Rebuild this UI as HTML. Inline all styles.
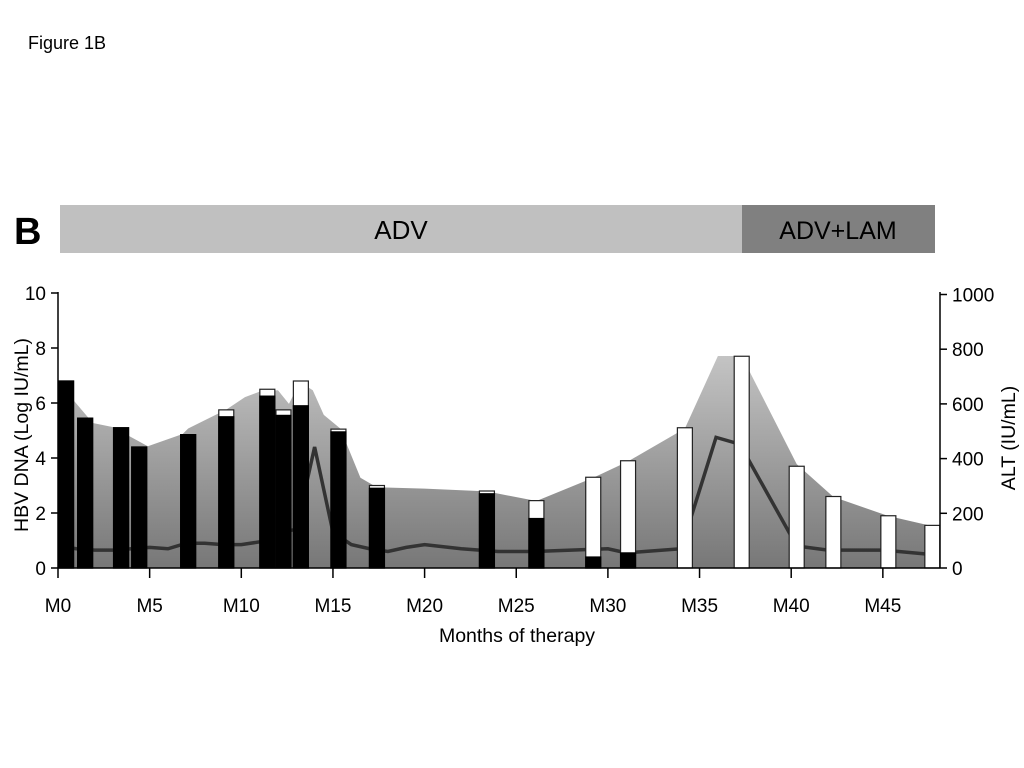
<!DOCTYPE html>
<html><head><meta charset="utf-8"><style>
body{margin:0;background:#fff;}
svg{display:block;font-family:"Liberation Sans",Arial,sans-serif;}
</style></head><body>
<svg id="chart" width="1024" height="768">
<defs><linearGradient id="g" x1="0" y1="355" x2="0" y2="568" gradientUnits="userSpaceOnUse">
<stop offset="0" stop-color="#c4c4c4"/><stop offset="1" stop-color="#777"/></linearGradient></defs>
<text x="28" y="49" font-size="18">Figure 1B</text>
<text x="14" y="244" font-size="38" font-weight="bold">B</text>
<rect x="60" y="205" width="682" height="48" fill="#c0c0c0"/>
<rect x="742" y="205" width="193" height="48" fill="#808080"/>
<text x="401" y="239" font-size="26" text-anchor="middle">ADV</text>
<text x="838" y="239" font-size="25" text-anchor="middle">ADV+LAM</text>
<g id="plot"></g>
<text x="517" y="642" font-size="19.5" text-anchor="middle">Months of therapy</text>
<text transform="translate(28,435) rotate(-90)" font-size="19.5" text-anchor="middle">HBV DNA (Log IU/mL)</text>
<text transform="translate(1015,438) rotate(-90)" font-size="19.5" text-anchor="middle">ALT (IU/mL)</text>
</svg>
<script>
const barMonths=[0.44,1.48,3.44,4.43,7.1,9.18,11.42,12.3,13.25,15.3,17.4,23.4,26.1,29.2,31.1,34.2,37.3,40.3,42.3,45.3,47.7];
const barTotal=[6.8,5.45,5.1,4.4,4.85,5.75,6.5,5.75,6.8,5.05,3.0,2.8,2.45,3.3,3.9,5.1,7.7,3.7,2.6,1.9,1.55];
const barBlack=[6.8,5.45,5.1,4.4,4.85,5.5,6.25,5.55,5.9,4.95,2.9,2.7,1.8,0.4,0.55,0,0,0,0,0,0];
const altMonths=[0,1.9,3.0,4.9,6.8,7.1,9.2,10.2,11.0,12.0,12.6,13.2,13.9,14.5,15.4,16.5,17.4,20,23.4,26.1,29.2,31.1,34.2,36.0,37.3,40.3,42.3,45.3,47.9];
const altVals=[680,530,515,445,490,510,580,625,645,650,600,680,650,560,510,330,295,290,280,245,330,390,510,775,775,380,260,190,150];
const lineMonths=[0,1,2,3,4,5,6,7,8,9,10,11,12,13,14,15,16,17,18,19,20,22,24,26,28,30,31,32,34,35.9,37.2,40.3,42,45,47.5];
const lineVals=[0.8,0.7,0.65,0.65,0.7,0.75,0.7,0.9,0.9,0.85,0.85,0.95,1.3,1.4,4.4,1.3,0.85,0.7,0.6,0.75,0.85,0.7,0.6,0.6,0.65,0.7,0.55,0.6,0.7,4.75,4.5,0.8,0.65,0.65,0.5];
const leftTicks=[0,2,4,6,8,10];
const rightTicks=[0,200,400,600,800,1000];
const xTicks=[0,5,10,15,20,25,30,35,40,45];
const X=m=>58+m*18.33;
const Y=v=>568-v*27.5;
const YR=v=>568-v*0.2735;
const NS='http://www.w3.org/2000/svg';
const g=document.getElementById('plot');
function mk(t,a){const e=document.createElementNS(NS,t);for(const k in a)e.setAttribute(k,a[k]);g.appendChild(e);return e;}
let pts=altMonths.map((m,i)=>X(m)+','+YR(altVals[i])).join(' ');
pts=X(altMonths[0])+',568 '+pts+' '+X(altMonths[altMonths.length-1])+',568';
const area=mk('polygon',{points:pts,fill:'url(#g)'});


const ln=mk('polyline',{points:lineMonths.map((m,i)=>X(m)+','+Y(lineVals[i])).join(' '),fill:'none',stroke:'#333',"stroke-width":3.5});


barMonths.forEach((m,i)=>{
 const x=X(m)-7.5;
 const w=mk('rect',{x:x,y:Y(barTotal[i]),width:15,height:barTotal[i]*27.5,fill:'#fff',stroke:'#222','stroke-width':1.2});
 
 
 if(barBlack[i]>0){const b=mk('rect',{x:x,y:Y(barBlack[i]),width:15,height:barBlack[i]*27.5,fill:'#000',stroke:'#000','stroke-width':1.2});
 
 }
});
mk('line',{x1:58,y1:292,x2:58,y2:568,stroke:'#000','stroke-width':1.5});
mk('line',{x1:58,y1:568,x2:940,y2:568,stroke:'#000','stroke-width':1.5});
mk('line',{x1:940,y1:292,x2:940,y2:568,stroke:'#000','stroke-width':1.5});
leftTicks.forEach(v=>{mk('line',{x1:51,y1:Y(v),x2:58,y2:Y(v),stroke:'#000','stroke-width':1.5});
 const t=mk('text',{x:46,y:Y(v)+7,'font-size':19,'text-anchor':'end'});t.textContent=v;
 
 });
rightTicks.forEach(v=>{mk('line',{x1:940,y1:YR(v),x2:947,y2:YR(v),stroke:'#000','stroke-width':1.5});
 const t=mk('text',{x:952,y:YR(v)+7,'font-size':19});t.textContent=v;
 
 });
xTicks.forEach(v=>{mk('line',{x1:X(v),y1:568,x2:X(v),y2:578,stroke:'#000','stroke-width':1.5});
 const t=mk('text',{x:X(v),y:612,'font-size':19,'text-anchor':'middle'});t.textContent='M'+v;
 
 });
</script>
</body></html>
